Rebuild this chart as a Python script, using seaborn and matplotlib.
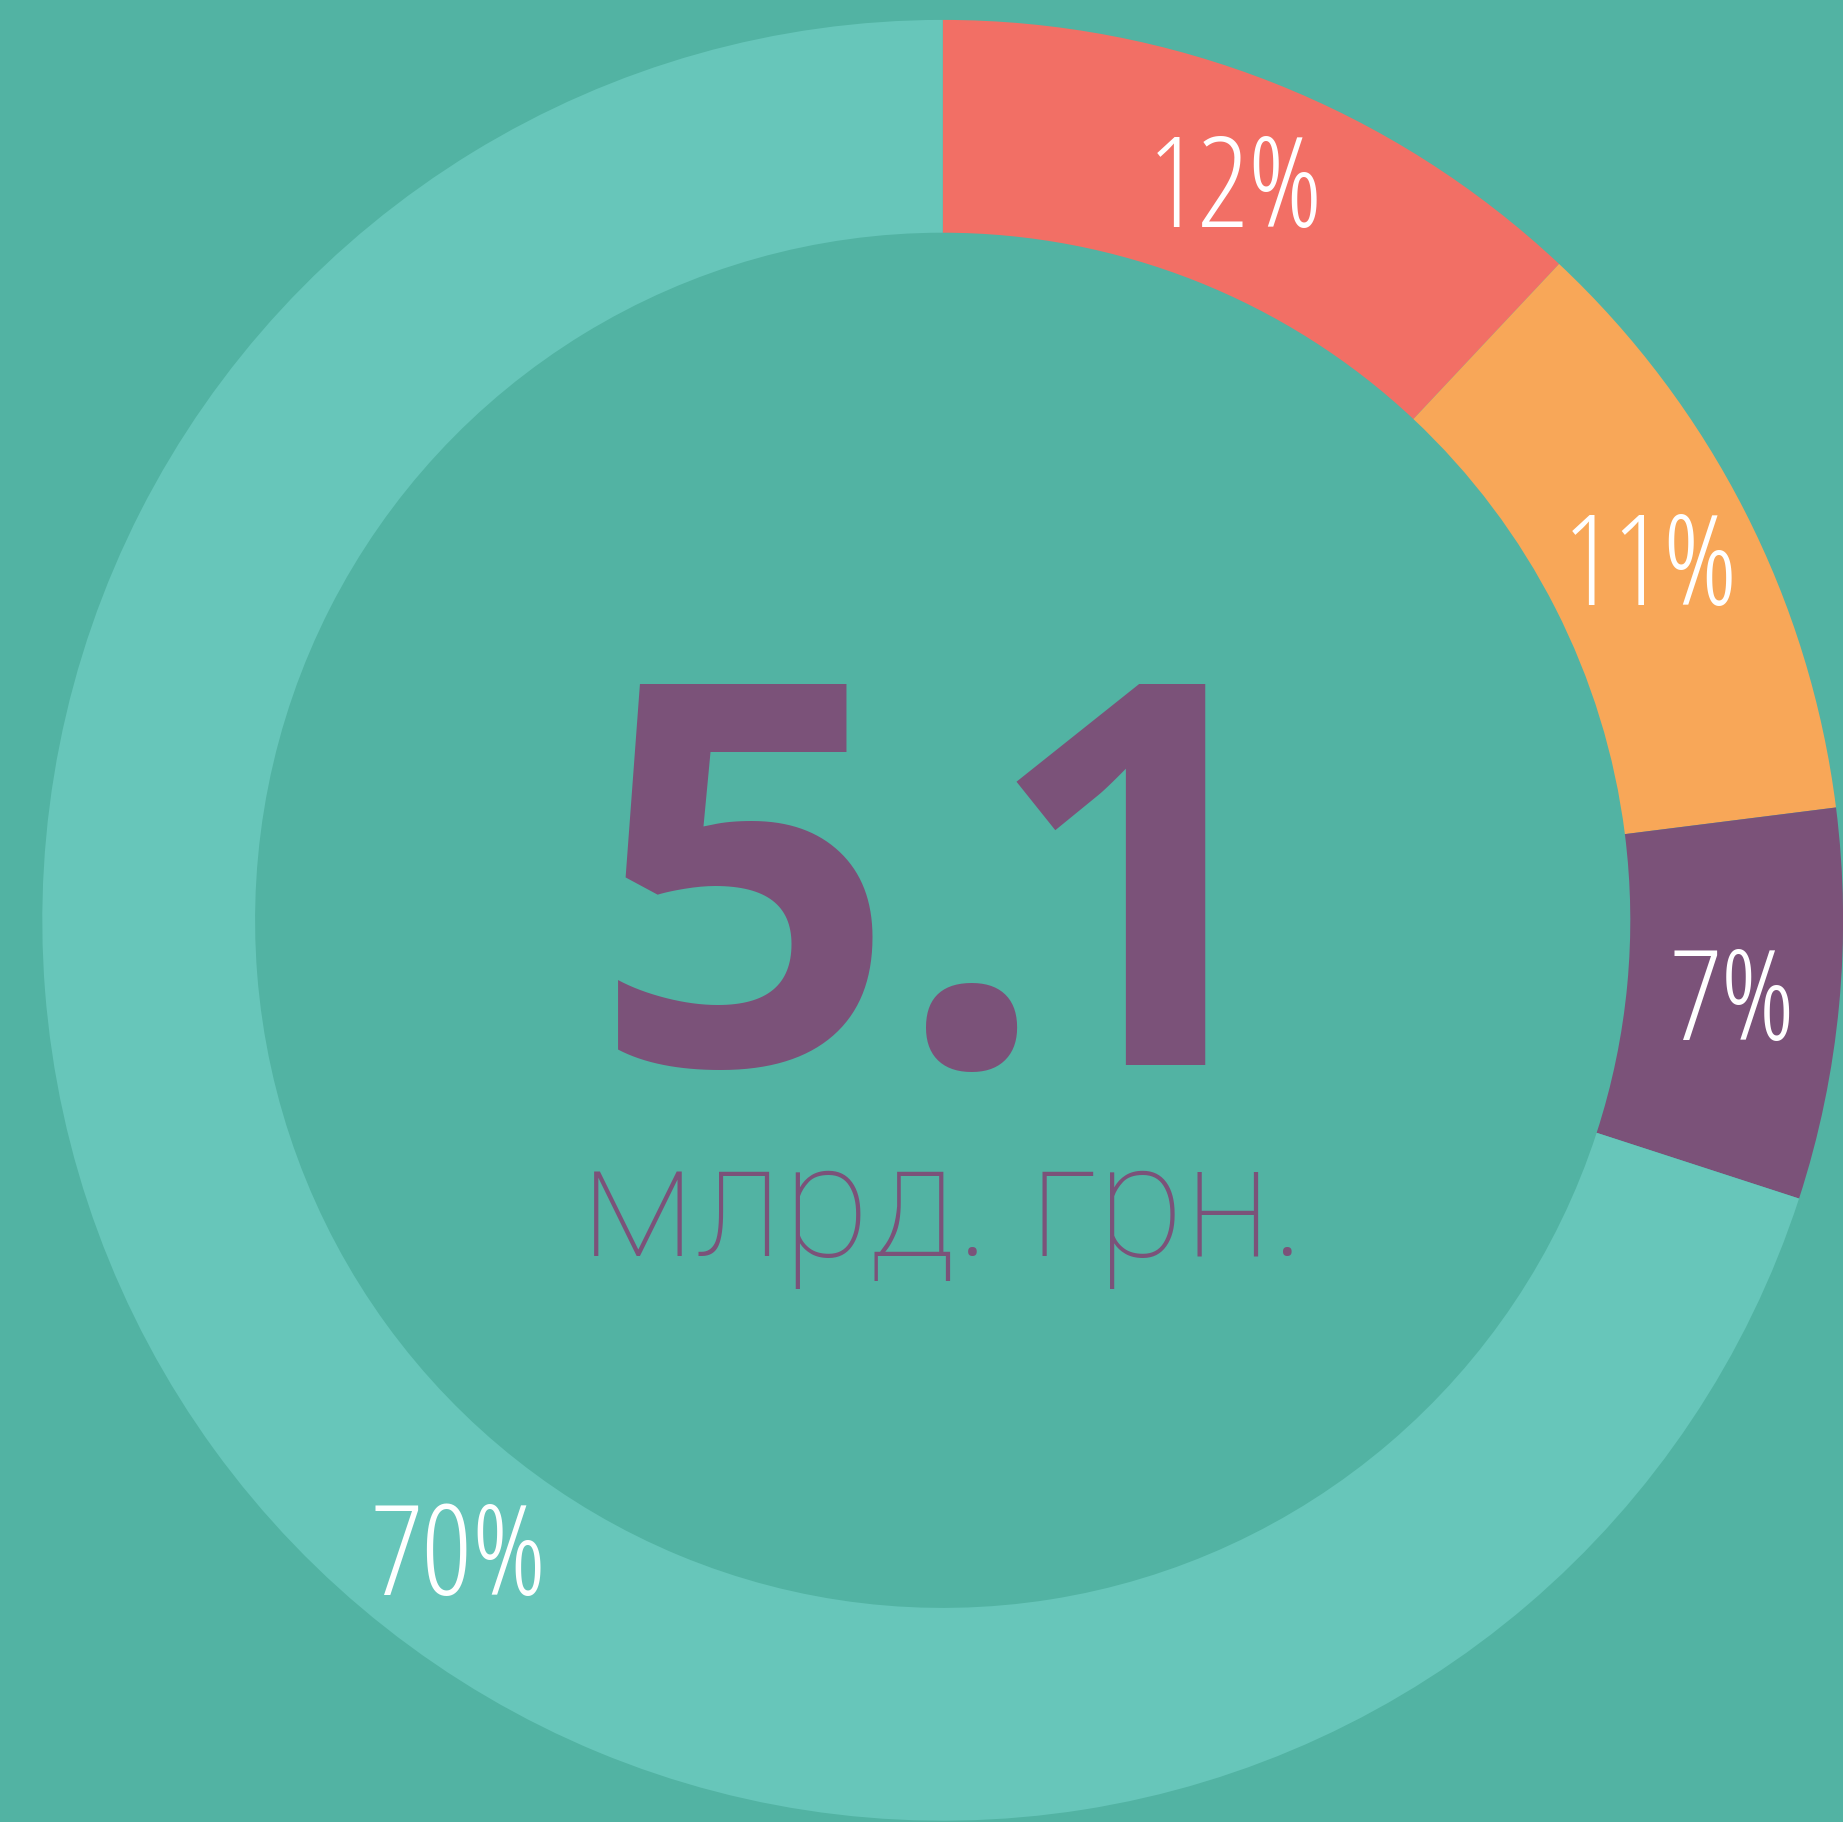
import numpy as np
import matplotlib
matplotlib.use("Agg")
import matplotlib.pyplot as plt
import seaborn as sns

# доли по категориях (%)
shares = [12, 11, 7, 70]
colors = ["#F26F65", "#F8A758", "#7B5279", "#67C6BA"]
total_value = "5.1"
unit_label = "млрд. грн."

bg = "#52B3A3"
W, H = 1843, 1822

sns.set_theme(style="white")
plt.rcParams["font.family"] = ["Open Sans", "DejaVu Sans"]

fig = plt.figure(figsize=(W / 100, H / 100), dpi=100)
fig.patch.set_facecolor(bg)
ax = fig.add_axes([0, 0, 1, 1])
ax.set_facecolor(bg)

cx, cy = 942.7, H - 920.3
r_out, r_in = 900.4, 687.6
r_mid = (r_out + r_in) / 2

wedges, texts, autotexts = ax.pie(
    shares,
    colors=sns.color_palette(colors),
    startangle=90,
    counterclock=False,
    center=(cx, cy),
    radius=r_out,
    wedgeprops=dict(width=r_out - r_in, linewidth=0),
    autopct=lambda p: f"{p:.0f}%",
    pctdistance=r_mid / r_out,
    textprops=dict(color="white", fontsize=91, fontweight="light",
                   fontstretch="condensed"),
)

# подпись большого сегмента стоит не по центру дуги
ang = np.deg2rad(232.5)
autotexts[3].set_position((cx + r_mid * np.cos(ang), cy + r_mid * np.sin(ang)))

# выравнивание по видимой высоте цифр
for t in autotexts:
    x, y = t.get_position()
    t.set_va("baseline")
    t.set_position((x, y - 45))

# крупная цифра: плотная разрядка между "." и "1"
ax.text(1049, H - 1065, total_value[:2], ha="right", va="baseline",
        fontsize=384, fontweight="bold", color="#7B5279")
ax.text(985, H - 1065, total_value[2:], ha="left", va="baseline",
        fontsize=384, fontweight="bold", color="#7B5279")
ax.text(cx, H - 1256, unit_label, ha="center", va="baseline",
        fontsize=115, fontweight="light", family=["Roboto", "DejaVu Sans"],
        color="#7B5279")

ax.set_xlim(0, W)
ax.set_ylim(0, H)
ax.set_aspect("equal")
ax.axis("off")

fig.savefig("out.png", dpi=100, facecolor=bg)
